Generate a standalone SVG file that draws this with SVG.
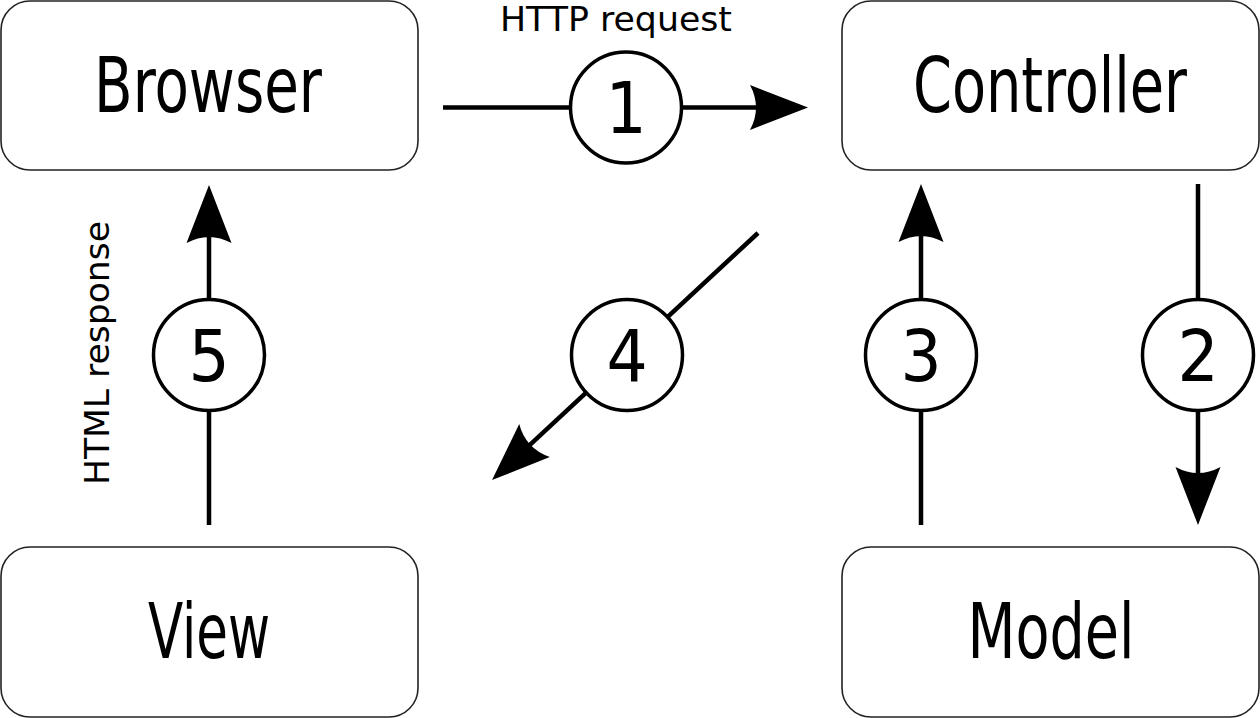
<svg xmlns="http://www.w3.org/2000/svg" width="1260" height="718" viewBox="0 0 1260 718">
  <style>
    .box { fill: #ffffff; stroke: #222222; stroke-width: 1.6; }
    .name { font-family: "Liberation Sans Narrow", "DejaVu Sans Condensed", "Liberation Sans", sans-serif; font-size: 76px; fill: #000000; text-anchor: middle; }
    .num { font-family: "Liberation Sans Narrow", "DejaVu Sans Condensed", "Liberation Sans", sans-serif; font-size: 72px; fill: #000000; text-anchor: middle; }
    .lbl { font-family: "DejaVu Sans", sans-serif; font-size: 33px; fill: #000000; text-anchor: middle; }
    .conn { fill: none; stroke: #000000; stroke-width: 4.5; marker-end: url(#head); }
    .badge { fill: #ffffff; stroke: #000000; stroke-width: 3.5; }
  </style>
  <defs>
    <marker id="head" markerUnits="userSpaceOnUse" viewBox="-60 -25 62 50" refX="-48" refY="0" markerWidth="62" markerHeight="50" orient="auto" overflow="visible">
      <path d="M0,0 L-58,-22.5 Q-46,0 -58,22.5 Z" fill="#000000"/>
    </marker>
  </defs>
  <rect width="1260" height="718" fill="#ffffff"/>

  <g id="browser">
    <rect class="box" x="1" y="1" width="417" height="169" rx="29"/>
    <text class="name" x="208" y="112" textLength="228" lengthAdjust="spacingAndGlyphs">Browser</text>
  </g>
  <g id="controller">
    <rect class="box" x="842" y="1" width="417" height="169" rx="29"/>
    <text class="name" x="1050" y="112" textLength="274" lengthAdjust="spacingAndGlyphs">Controller</text>
  </g>
  <g id="view">
    <rect class="box" x="1" y="547" width="417" height="170" rx="29"/>
    <text class="name" x="209" y="658" textLength="122" lengthAdjust="spacingAndGlyphs">View</text>
  </g>
  <g id="model">
    <rect class="box" x="842" y="547" width="417" height="170" rx="29"/>
    <text class="name" x="1051" y="658" textLength="167" lengthAdjust="spacingAndGlyphs">Model</text>
  </g>

  <g id="connectors">
    <line class="conn" x1="443" y1="107.5" x2="760" y2="107.5"/>
    <line class="conn" x1="1198" y1="184" x2="1198" y2="477"/>
    <line class="conn" x1="921" y1="525" x2="921" y2="232"/>
    <line class="conn" x1="758" y1="233" x2="527.2" y2="447.4"/>
    <line class="conn" x1="209" y1="525" x2="209" y2="233"/>

    <g id="step1">
      <circle class="badge" cx="626" cy="107.5" r="55.5"/>
      <text class="num" x="626" y="133">1</text>
    </g>
    <g id="step2">
      <circle class="badge" cx="1198" cy="355" r="55.5"/>
      <text class="num" x="1198" y="381">2</text>
    </g>
    <g id="step3">
      <circle class="badge" cx="921" cy="355" r="55.5"/>
      <text class="num" x="921" y="381">3</text>
    </g>
    <g id="step4">
      <circle class="badge" cx="627" cy="355" r="55.5"/>
      <text class="num" x="627" y="381">4</text>
    </g>
    <g id="step5">
      <circle class="badge" cx="209" cy="355" r="55.5"/>
      <text class="num" x="209" y="381">5</text>
    </g>

    <text class="lbl" x="616" y="31" textLength="232" lengthAdjust="spacingAndGlyphs">HTTP request</text>
    <text class="lbl" transform="translate(109,353) rotate(-90)" x="0" y="0" textLength="264" lengthAdjust="spacingAndGlyphs">HTML response</text>
  </g>
</svg>
